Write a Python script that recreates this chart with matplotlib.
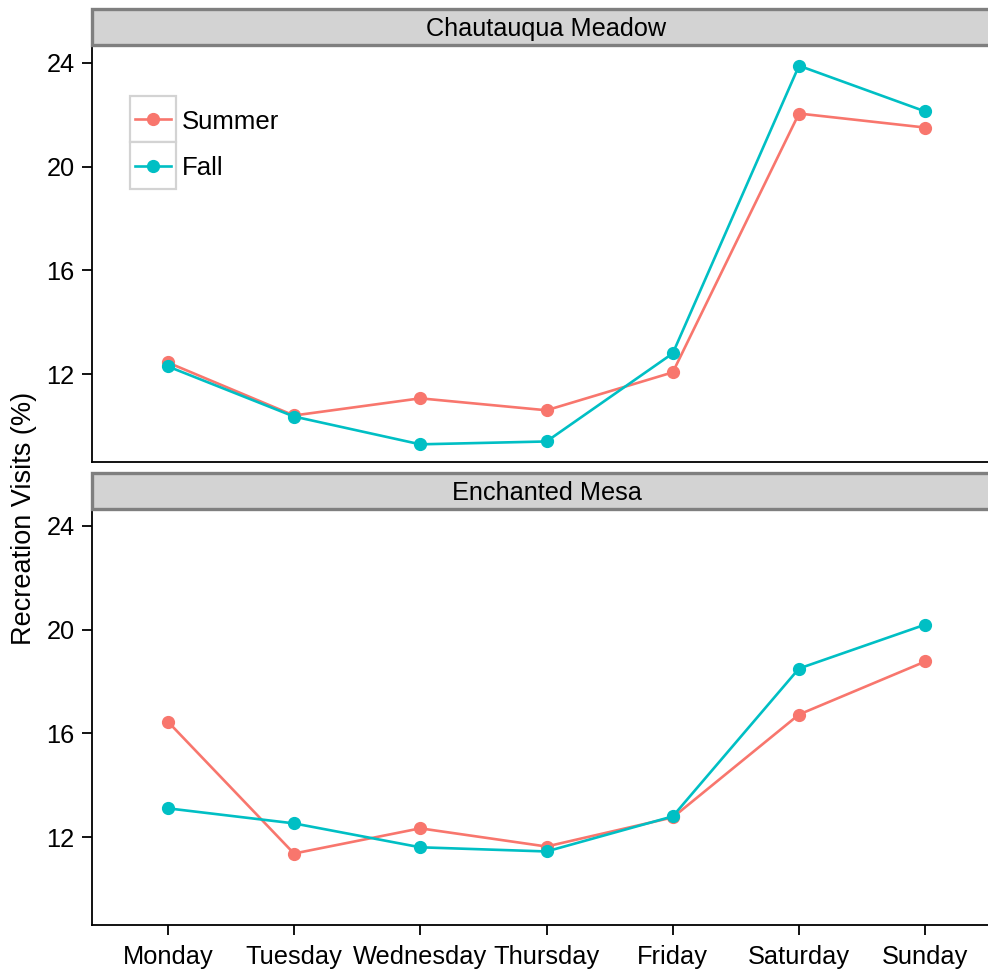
import matplotlib
matplotlib.use("Agg")
import matplotlib.pyplot as plt
from matplotlib.patches import Rectangle
from matplotlib.lines import Line2D

plt.rcParams['font.family'] = ['Liberation Sans', 'DejaVu Sans']

days = ["Monday", "Tuesday", "Wednesday", "Thursday", "Friday", "Saturday", "Sunday"]
panels = ["Chautauqua Meadow", "Enchanted Mesa"]
series = ["Summer", "Fall"]
colors = ["#F8766D", "#00BFC4"]

chautauqua_summer = [12.46, 10.42, 11.08, 10.62, 12.08, 22.04, 21.50]
chautauqua_fall = [12.31, 10.38, 9.31, 9.42, 12.81, 23.88, 22.12]
mesa_summer = [16.46, 11.38, 12.35, 11.65, 12.77, 16.73, 18.77]
mesa_fall = [13.12, 12.54, 11.62, 11.46, 12.81, 18.50, 20.19]
yticks = [12, 16, 20, 24]

data = [[chautauqua_summer, chautauqua_fall], [mesa_summer, mesa_fall]]

W, H = 988, 972
fig = plt.figure(figsize=(W / 100, H / 100), dpi=100)

def fr(x0, y0, x1, y1):
    return [x0 / W, 1 - y1 / H, (x1 - x0) / W, (y1 - y0) / H]

panel_boxes = [(92, 47, 1001, 462), (92, 510, 1001, 925)]
strip_boxes = [(92, 9, 1003, 45), (92, 473, 1003, 509)]
x = list(range(1, len(days) + 1))

for i, (pb, sb) in enumerate(zip(panel_boxes, strip_boxes)):
    ax = fig.add_axes(fr(*pb))
    for vals, c, name in zip(data[i], colors, series):
        ax.plot(x, vals, color=c, lw=1.9, marker='o', ms=8.5, label=name,
                solid_capstyle='butt', clip_on=False)
    ax.set_xlim(0.4, 7.6)
    ax.set_ylim(8.63, 24.6)
    ax.set_yticks(yticks)
    ax.set_yticklabels([str(t) for t in yticks])
    ax.set_xticks(x)
    for s in ['top', 'right']:
        ax.spines[s].set_visible(False)
    for s in ['left', 'bottom']:
        ax.spines[s].set_linewidth(1.3)
        ax.spines[s].set_color('black')
    ax.tick_params(axis='both', length=7.5, width=1.3, labelsize=18.3, colors='black')
    ax.tick_params(axis='y', pad=5)
    ax.tick_params(axis='x', pad=7)
    if i == 0:
        ax.tick_params(axis='x', length=0, labelbottom=False)
    else:
        ax.set_xticklabels(days)
    # strip
    x0, y0, x1, y1 = sb
    fig.patches.append(Rectangle((x0 / W, 1 - y1 / H), (x1 - x0) / W, (y1 - y0) / H,
                                 transform=fig.transFigure, facecolor='#d3d3d3',
                                 edgecolor='#7f7f7f', lw=2.4, zorder=0))
    fig.text((92 + 1001) / 2 / W, 1 - ((y0 + y1) / 2 + 2) / H, panels[i], ha='center',
             va='center', fontsize=18.2, color='black')

# legend (manual, top panel)
for k, (name, c) in enumerate(zip(series, colors)):
    top = 96 + k * 46.5
    fig.patches.append(Rectangle((130 / W, 1 - (top + 46.5) / H), 46 / W, 46.5 / H,
                                 transform=fig.transFigure, facecolor='white',
                                 edgecolor='#d3d3d3', lw=1.6, zorder=3))
    yc = 1 - (top + 23.25) / H
    fig.lines.append(Line2D([135 / W, 171 / W], [yc, yc], transform=fig.transFigure,
                            color=c, lw=1.9, zorder=4))
    fig.lines.append(Line2D([153 / W], [yc], transform=fig.transFigure, color=c,
                            marker='o', ms=8.5, lw=0, zorder=5))
    fig.text(182 / W, yc - 2.5 / H, name, ha='left', va='center', fontsize=18.5, color='black')

fig.text(24 / W, 1 - 518 / H, "Recreation Visits (%)", rotation=90, ha='center', va='center',
         fontsize=19.5, color='black')

fig.savefig("out.png", dpi=100)
